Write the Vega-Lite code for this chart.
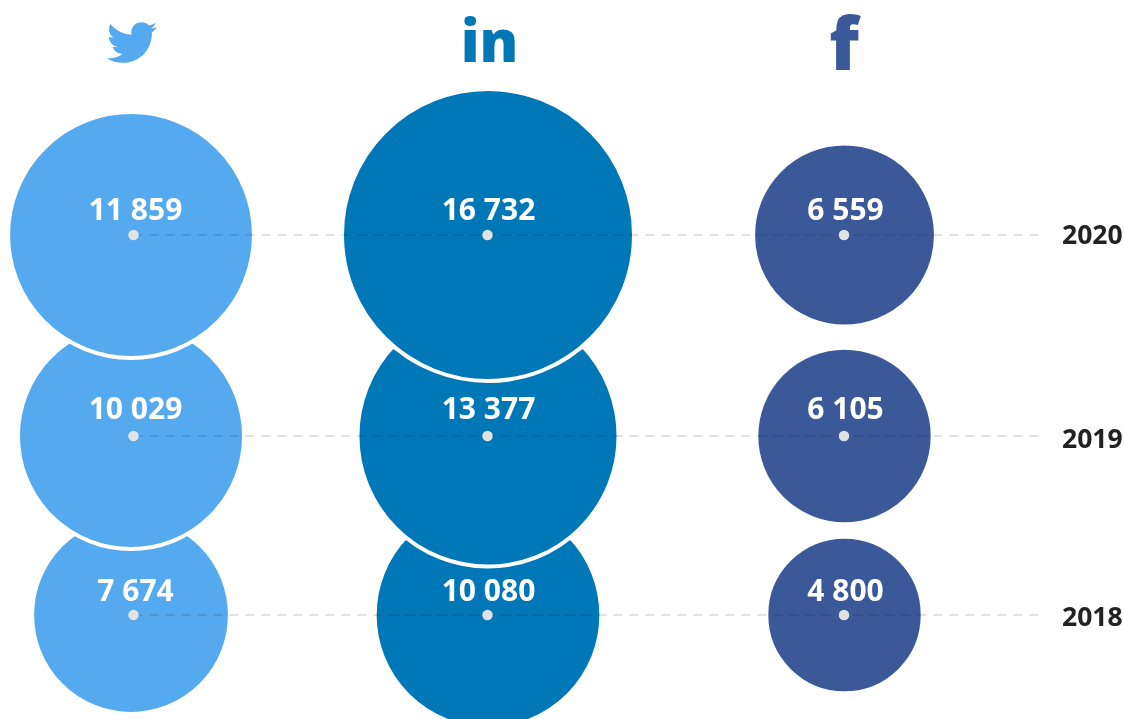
{"$schema":"https://vega.github.io/schema/vega-lite/v6.json","width":1124,"height":719,"autosize":{"type":"fit","contains":"padding"},"padding":0,"background":"white","view":{"stroke":null},"config":{"axis":{"disable":true}},
"datasets":{"v":[
{"network":"Twitter","col":1,"year":2018,"users":7674,"label":"7 674"},
{"network":"LinkedIn","col":2,"year":2018,"users":10080,"label":"10 080"},
{"network":"Facebook","col":3,"year":2018,"users":4800,"label":"4 800"},
{"network":"Twitter","col":1,"year":2019,"users":10029,"label":"10 029"},
{"network":"LinkedIn","col":2,"year":2019,"users":13377,"label":"13 377"},
{"network":"Facebook","col":3,"year":2019,"users":6105,"label":"6 105"},
{"network":"Twitter","col":1,"year":2020,"users":11859,"label":"11 859"},
{"network":"LinkedIn","col":2,"year":2020,"users":16732,"label":"16 732"},
{"network":"Facebook","col":3,"year":2020,"users":6559,"label":"6 559"}],
"lines":[{"year":2018,"start":1,"end":4},{"year":2019,"start":1,"end":4},{"year":2020,"start":1,"end":4}],
"iconIn":[{"network":"LinkedIn","col":2,"year":2021,"glyph":"in"}],
"iconF":[{"network":"Facebook","col":3,"year":2021,"glyph":"f"}],
"bird":[{"network":"Twitter","col":1,"year":2021}]},
"layer":[
{"data":{"name":"v"},"mark":{"type":"point","shape":"circle","filled":true,"opacity":1,"stroke":"white","strokeWidth":4,"xOffset":{"expr":"datum.network==='Twitter'?-2.5:0.5"}},
"encoding":{"x":{"field":"col","type":"quantitative","scale":{"domain":[1,2,3,4],"range":[133.5,487.5,844,1043]},"axis":null},
"y":{"field":"year","type":"quantitative","scale":{"domain":[2018,2019,2020,2021],"range":[615,436,235,42]},"axis":null},
"size":{"field":"users","type":"quantitative","legend":null,"scale":{"domain":[0,16732],"range":[0,85264]}},
"color":{"field":"network","type":"nominal","legend":null,"scale":{"domain":["Twitter","LinkedIn","Facebook"],"range":["#55A9EE","#0077B7","#3B5998"]}}}},
{"data":{"name":"lines"},"mark":{"type":"rule","stroke":"#e2e2e2","strokeWidth":2,"strokeDash":[9,7],"blend":"multiply"},
"encoding":{"x":{"field":"start","type":"quantitative"},"x2":{"field":"end"},"y":{"field":"year","type":"quantitative"}}},
{"data":{"name":"v"},"mark":{"type":"point","shape":"circle","filled":true,"opacity":1,"color":"#e2e2e2","size":110},
"encoding":{"x":{"field":"col","type":"quantitative"},"y":{"field":"year","type":"quantitative"}}},
{"data":{"name":"v"},"mark":{"type":"text","font":"Open Sans","fontWeight":"bold","fontSize":30,"color":"white","dx":{"expr":"datum.network==='LinkedIn'?1:datum.network==='Twitter'?2:1.5"},"dy":{"expr":"datum.year===2020?-24:datum.year===2019?-26:-23"}},
"encoding":{"x":{"field":"col","type":"quantitative"},"y":{"field":"year","type":"quantitative"},"text":{"field":"label"}}},
{"data":{"name":"lines"},"mark":{"type":"text","font":"Open Sans","fontWeight":"bold","fontSize":26.5,"color":"#222222","align":"left","dx":19,"dy":{"expr":"datum.year===2020?1:datum.year===2019?4:3"}},
"encoding":{"x":{"field":"end","type":"quantitative"},"y":{"field":"year","type":"quantitative"},"text":{"field":"year","type":"nominal"}}},
{"data":{"name":"iconIn"},"mark":{"type":"text","font":"Open Sans","fontWeight":800,"fontSize":58,"baseline":"alphabetic","dx":2,"dy":20},
"encoding":{"x":{"field":"col","type":"quantitative"},"y":{"field":"year","type":"quantitative"},"text":{"field":"glyph"},"color":{"field":"network","type":"nominal","legend":null}}},
{"data":{"name":"iconF"},"mark":{"type":"text","font":"Open Sans","fontWeight":800,"fontSize":72,"baseline":"alphabetic","dx":0,"dy":28},
"encoding":{"x":{"field":"col","type":"quantitative"},"y":{"field":"year","type":"quantitative"},"text":{"field":"glyph"},"color":{"field":"network","type":"nominal","legend":null}}},
{"data":{"name":"bird"},"mark":{"type":"point","filled":true,"opacity":1,"size":2500,"xOffset":-1.5,"yOffset":0.5,"shape":"M0.996 -0.619Q0.883 -0.575 0.761 -0.554Q0.892 -0.633 0.941 -0.782Q0.817 -0.717 0.681 -0.683A0.41 0.41 0 0 0 -0.018 -0.309C-0.359 -0.325 -0.661 -0.489 -0.863 -0.736A0.402 0.402 0 0 0 -0.919 -0.53C-0.919 -0.388 -0.846 -0.263 -0.737 -0.189A0.409 0.409 0 0 1 -0.922 -0.24L-0.922 -0.235A0.41 0.41 0 0 0 -0.593 0.167A0.416 0.416 0 0 1 -0.778 0.174A0.411 0.411 0 0 0 -0.394 0.459A0.822 0.822 0 0 1 -0.903 0.634C-0.935 0.634 -0.967 0.632 -1 0.629A1.166 1.166 0 0 0 -0.37 0.813C0.384 0.813 0.796 0.188 0.796 -0.353C0.796 -0.37 0.796 -0.388 0.795 -0.405A0.828 0.828 0 0 0 1 -0.618Z"},
"encoding":{"x":{"field":"col","type":"quantitative"},"y":{"field":"year","type":"quantitative"},"color":{"field":"network","type":"nominal","legend":null}}}
]}
